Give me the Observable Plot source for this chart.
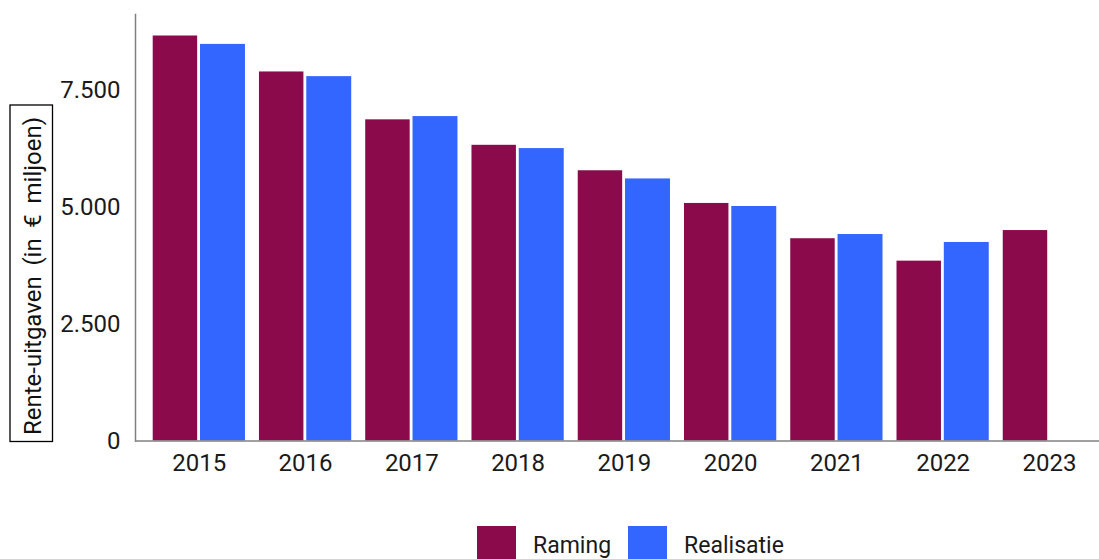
<!DOCTYPE html>
<html><head><meta charset="utf-8">
<script src="https://cdn.jsdelivr.net/npm/d3@7"></script>
<script src="https://cdn.jsdelivr.net/npm/@observablehq/plot@0.6"></script>
<style>
body{margin:0;background:#fff;font-family:Roboto,sans-serif;}
#legend{display:flex;align-items:center;margin-top:26px;padding-left:477px;font-size:23px;color:#1a1a1a;line-height:1}
.item{display:flex;align-items:center;margin-right:17px}
.sw{width:39px;height:39px;display:inline-block;margin-right:17px}
</style></head><body>
<div id="chart"></div>
<div id="legend"></div>
<script>
const years = ["2015","2016","2017","2018","2019","2020","2021","2022","2023"];
const raming = [8670,7900,6875,6330,5785,5085,4330,3850,4505];
const realisatie = [8490,7800,6945,6260,5610,5020,4420,4250,null];
const series = ["Raming","Realisatie"];
const colors = ["#8a0a4c","#3366ff"];
const yTicks = [0,2500,5000,7500];
const yLabel = "Rente-uitgaven (in € miljoen)";

const data = [];
years.forEach((y,i)=>{
  if (raming[i]!=null) data.push({year:y, series:"Raming", value:raming[i]});
  if (realisatie[i]!=null) data.push({year:y, series:"Realisatie", value:realisatie[i]});
});
const nl = d3.formatLocale({thousands:".", decimal:",", grouping:[3], currency:["€",""]});
const fmt = nl.format(",");

const chart = Plot.plot({
  width: 1099, height: 500,
  marginLeft: 135, marginRight: 0, marginTop: 14, marginBottom: 59.5,
  style: {fontFamily:"Roboto, sans-serif", fontSize:"24px", color:"#1a1a1a", background:"#fff"},
  x: {domain: years, type:"band", round:false, paddingInner:0.1318, paddingOuter:0.1021, align:0.816, label:null},
  y: {domain:[0,9130], label:null},
  color: {domain: series, range: colors},
  marks: [
    Plot.barY(data.filter(d=>d.series==="Raming"), {x:"year", y:"value", fill:"series", insetRight:47.8}),
    Plot.barY(data.filter(d=>d.series==="Realisatie"), {x:"year", y:"value", fill:"series", insetLeft:47.3}),
    Plot.axisX({tickSize:0, tickPadding:13, label:null}),
    Plot.axisY({ticks:yTicks, tickSize:0, tickPadding:15, tickFormat:fmt, label:null}),
    Plot.ruleY([0], {stroke:"#808080", strokeWidth:1.5}),
    Plot.frame({anchor:"left", stroke:"#808080", strokeWidth:1.5})
  ]
});
document.getElementById("chart").appendChild(chart);

// boxed y-axis label
const svg = d3.select(chart);
const g = svg.append("g");
g.append("rect").attr("x",10).attr("y",105).attr("width",42.5).attr("height",336.5)
  .attr("fill","#fff").attr("stroke","#000").attr("stroke-width",1.3);
const t = g.append("text").attr("transform","translate(40.5,276) rotate(-90)")
  .attr("text-anchor","middle")
  .attr("fill","#111").style("font-size","24px").style("font-family","Roboto, sans-serif")
  .text(yLabel);
const len = t.node().getComputedTextLength();
const spaces = (yLabel.match(/ /g)||[]).length;
const target = 318;
if (len < target && spaces) t.attr("word-spacing", (target-len)/spaces);

// legend
const lg = d3.select("#legend");
series.forEach((s,i)=>{
  const it = lg.append("div").attr("class","item");
  it.append("span").attr("class","sw").style("background",colors[i]);
  it.append("span").text(s);
});
</script>
</body></html>
